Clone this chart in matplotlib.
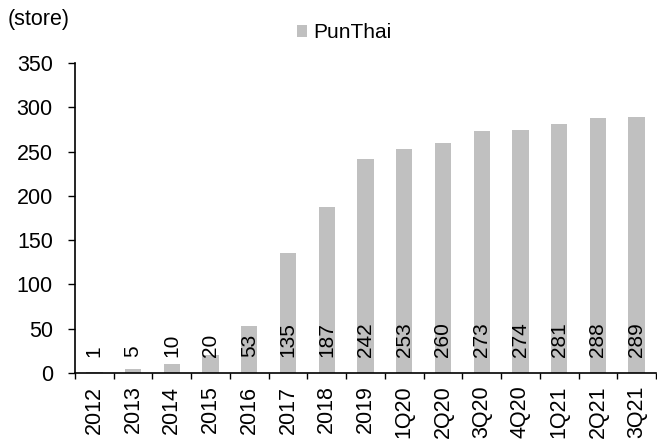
import matplotlib
matplotlib.use("Agg")
import matplotlib.pyplot as plt
import numpy as np

plt.rcParams['font.family'] = ['Liberation Sans', 'DejaVu Sans']

categories = ["2012", "2013", "2014", "2015", "2016", "2017", "2018", "2019",
              "1Q20", "2Q20", "3Q20", "4Q20", "1Q21", "2Q21", "3Q21"]
values = [1, 5, 10, 20, 53, 135, 187, 242, 253, 260, 273, 274, 281, 288, 289]
series_name = "PunThai"
y_label = "(store)"

fig = plt.figure(figsize=(6.57, 4.4), dpi=100)
ax = fig.add_axes([75/657, 1 - 373/440, (656-75)/657, (373-63)/440])

x = np.arange(len(categories))
bars = ax.bar(x, values, width=0.42, color="#C0C0C0", label=series_name, zorder=2)

for xi, v in zip(x, values):
    ax.text(xi, 18, str(v), rotation=90, ha="center", va="bottom", fontsize=15, color="black", zorder=3)

ax.set_xlim(-0.5, len(categories) - 0.5)
ax.set_ylim(0, 350)
ax.set_yticks(np.arange(0, 351, 50))
ax.tick_params(axis="y", labelsize=15.5, length=5, width=1, direction="out", pad=11)
ax.set_xticks(x)
ax.set_xticklabels(categories, rotation=90, fontsize=15.5)
ax.tick_params(axis="x", which="major", length=0, pad=9)
ax.set_xticks(np.arange(-0.5, len(categories), 1), minor=True)
ax.tick_params(axis="x", which="minor", length=4.5, width=1, direction="out")

for s in ["top", "right"]:
    ax.spines[s].set_visible(False)
for s in ["left", "bottom"]:
    ax.spines[s].set_linewidth(1.2)
    ax.spines[s].set_color("black")

fig.text(8/657, 1 - 20/440, y_label, fontsize=15.5, ha="left", va="center")

ax.legend(handles=[bars], loc="center left", bbox_to_anchor=(297/657, 1 - 33/440),
          bbox_transform=fig.transFigure, frameon=False, fontsize=15,
          handlelength=0.5, handleheight=0.5, handletextpad=0.3, borderpad=0, borderaxespad=0)

fig.savefig("out.png", dpi=100)
